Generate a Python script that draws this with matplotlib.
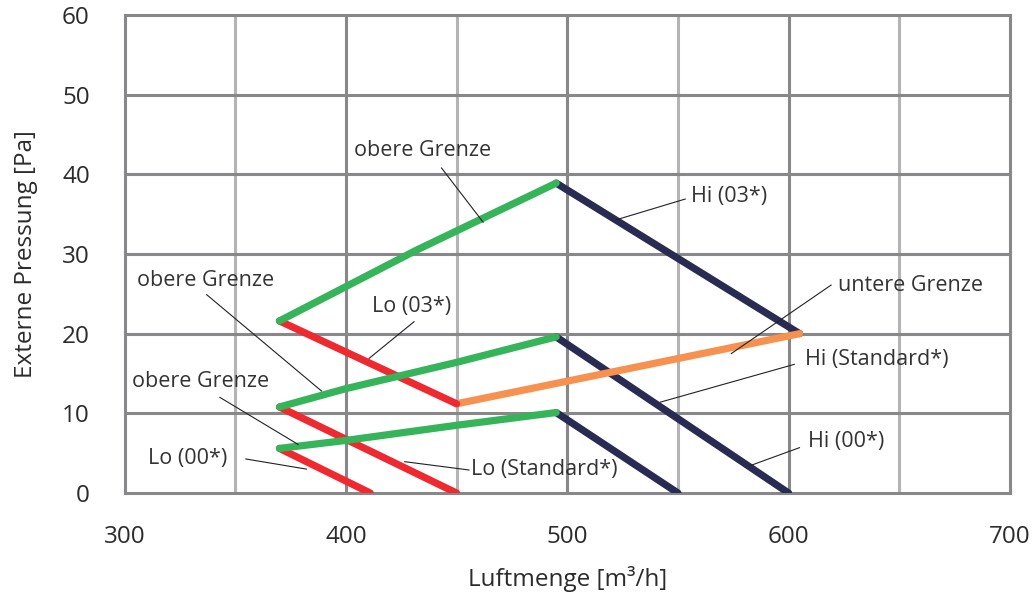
import numpy as np
import matplotlib.pyplot as plt

plt.rcParams['font.family'] = ['Open Sans', 'DejaVu Sans']

# Kennlinien (Luftmenge [m3/h], Externe Pressung [Pa])
obere_03_x = [370, 432, 495]
obere_03_y = [21.6, 30.5, 38.9]
obere_std_x = [370, 400, 450, 495]
obere_std_y = [10.8, 13.1, 16.4, 19.6]
obere_00_x = [370, 400, 450, 495]
obere_00_y = [5.6, 6.6, 8.5, 10.1]

lo_03_x = [370, 450]
lo_03_y = [21.6, 11.2]
lo_std_x = [370, 450]
lo_std_y = [10.8, 0]
lo_00_x = [370, 411]
lo_00_y = [5.6, 0]

untere_x = [450, 605]
untere_y = [11.2, 20.0]

hi_03_x = [495, 605]
hi_03_y = [38.9, 20.0]
hi_std_x = [495, 600]
hi_std_y = [19.6, 0]
hi_00_x = [495, 550]
hi_00_y = [10.1, 0]

x_ticks = [300, 400, 500, 600, 700]
y_ticks = [0, 10, 20, 30, 40, 50, 60]

# Beschriftungen: Text, Textposition, Linie von -> nach
labels = [
    ('obere Grenze', (403.5, 43.0), (443.2, 40.8), (462.0, 34.0)),
    ('obere Grenze', (305.6, 26.7), (337.1, 24.9), (389.0, 12.8)),
    ('obere Grenze', (303.2, 14.0), (343.1, 12.0), (378.4, 6.1)),
    ('Lo (00*)', (310.7, 4.35), (354.8, 4.27), (382.2, 3.0)),
    ('Lo (Standard*)', (456.7, 2.89), (455.6, 2.89), (426.6, 3.93)),
    ('Lo (03*)', (411.6, 23.4), (430.8, 21.5), (410.5, 16.9)),
    ('Hi (03*)', (556.0, 37.2), (553.3, 36.9), (522.2, 34.3)),
    ('untere Grenze', (622.2, 26.0), (619.2, 26.1), (574.1, 17.5)),
    ('Hi (Standard*)', (607.2, 16.7), (602.6, 16.15), (542.0, 11.4)),
    ('Hi (00*)', (608.6, 6.44), (604.9, 5.69), (582.3, 3.4)),
]

gruen = '#36b45a'
rot = '#ee2a30'
blau = '#2a2b52'
orange = '#f7914f'

fig = plt.figure(figsize=(10.35, 6.01), dpi=100)
ax = fig.add_axes([0.1203, 0.1797, 0.8555, 0.7953])

# Gitter
for x in [350, 450, 550, 650]:
    ax.axvline(x, color='#b4b4b6', lw=2.2, zorder=0)
for x in [400, 500, 600]:
    ax.axvline(x, color='#88888b', lw=2.2, zorder=0)
for y in y_ticks[1:-1]:
    ax.axhline(y, color='#88888b', lw=2.2, zorder=0)

lw = 5.2
kw = dict(lw=lw, solid_capstyle='round', solid_joinstyle='round', zorder=3)
ax.plot(hi_03_x, hi_03_y, color=blau, **kw)
ax.plot(hi_std_x, hi_std_y, color=blau, **kw)
ax.plot(hi_00_x, hi_00_y, color=blau, **kw)
ax.plot(untere_x, untere_y, color=orange, **kw)
ax.plot(lo_03_x, lo_03_y, color=rot, **kw)
ax.plot(lo_std_x, lo_std_y, color=rot, **kw)
ax.plot(lo_00_x, lo_00_y, color=rot, **kw)
ax.plot(obere_03_x, obere_03_y, color=gruen, **kw)
ax.plot(obere_std_x, obere_std_y, color=gruen, **kw)
ax.plot(obere_00_x, obere_00_y, color=gruen, **kw)

for text, pos, p0, p1 in labels:
    ax.text(pos[0], pos[1], text, fontsize=15.5, color='#333333',
            ha='left', va='center', zorder=5)
    ax.plot([p0[0], p1[0]], [p0[1], p1[1]], color='#222222', lw=0.8, zorder=4)

ax.set_xlim(300, 700)
ax.set_ylim(0, 60)
ax.set_xticks(x_ticks)
ax.set_yticks(y_ticks)
ax.tick_params(length=0, labelsize=17.5, colors='#2b2b2b')
ax.tick_params(axis='y', pad=25)
ax.tick_params(axis='x', pad=23)
for s in ax.spines.values():
    s.set_color('#88888b')
    s.set_linewidth(2.2)
ax.set_xlabel('Luftmenge [m³/h]', fontsize=17.5, color='#2b2b2b', labelpad=12)
ax.set_ylabel('Externe Pressung [Pa]', fontsize=17.5, color='#2b2b2b', labelpad=17)

fig.savefig('out.png', dpi=100)
